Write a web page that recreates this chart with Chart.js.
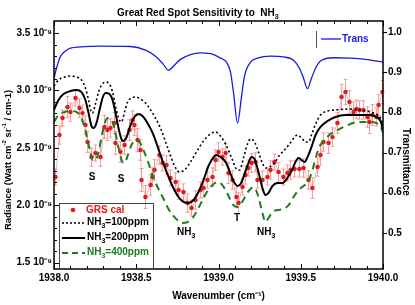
<!DOCTYPE html>
<html><head><meta charset="utf-8">
<script src="https://cdn.jsdelivr.net/npm/chart.js@4.4.1/dist/chart.umd.min.js"></script>
<style>html,body{margin:0;padding:0;background:#fff;}canvas{display:block;}</style>
</head><body>
<canvas id="c" width="415" height="305"></canvas>
<script>
// ---- tick values ----
const xTickValues = [1938.0, 1938.5, 1939.0, 1939.5, 1940.0];
const radTickValues = [1.5, 2.0, 2.5, 3.0, 3.5];      // units of 1e-9
const transTickValues = [0.5, 0.6, 0.7, 0.8, 0.9, 1.0];

// ---- transmittance (right axis) [wavenumber, T] ----
const transData = [[1938.000,0.885],[1938.012,0.905],[1938.021,0.918],[1938.040,0.940],[1938.070,0.953],[1938.100,0.960],[1938.161,0.963],[1938.283,0.965],[1938.465,0.964],[1938.556,0.955],[1938.617,0.940],[1938.660,0.922],[1938.696,0.905],[1938.733,0.918],[1938.769,0.932],[1938.830,0.944],[1938.891,0.948],[1938.951,0.946],[1939.012,0.935],[1939.049,0.925],[1939.073,0.900],[1939.091,0.850],[1939.116,0.773],[1939.140,0.840],[1939.158,0.890],[1939.195,0.925],[1939.237,0.935],[1939.316,0.940],[1939.395,0.938],[1939.456,0.930],[1939.492,0.910],[1939.517,0.885],[1939.541,0.859],[1939.565,0.885],[1939.590,0.910],[1939.620,0.928],[1939.699,0.936],[1939.802,0.935],[1939.894,0.932],[1940.000,0.925]];

// ---- model radiances (1e-9 W cm-2 sr-1 / cm-1) [wavenumber, radiance] ----
const nh3_100 = [[1938.000,3.039],[1938.027,3.091],[1938.064,3.117],[1938.100,3.126],[1938.137,3.117],[1938.167,3.091],[1938.191,3.021],[1938.210,2.917],[1938.222,2.830],[1938.234,2.803],[1938.252,2.882],[1938.271,2.986],[1938.289,3.047],[1938.313,3.073],[1938.337,3.056],[1938.356,2.986],[1938.374,2.864],[1938.392,2.760],[1938.410,2.725],[1938.429,2.812],[1938.447,2.899],[1938.471,2.934],[1938.495,2.943],[1938.526,2.925],[1938.556,2.891],[1938.599,2.803],[1938.647,2.673],[1938.696,2.481],[1938.733,2.342],[1938.763,2.290],[1938.793,2.307],[1938.830,2.377],[1938.866,2.464],[1938.909,2.560],[1938.951,2.621],[1938.982,2.638],[1939.012,2.603],[1939.049,2.516],[1939.085,2.394],[1939.109,2.316],[1939.128,2.307],[1939.152,2.412],[1939.176,2.534],[1939.195,2.577],[1939.219,2.551],[1939.243,2.464],[1939.267,2.368],[1939.286,2.325],[1939.310,2.333],[1939.340,2.368],[1939.371,2.438],[1939.401,2.481],[1939.432,2.534],[1939.462,2.594],[1939.480,2.612],[1939.505,2.586],[1939.529,2.551],[1939.547,2.551],[1939.565,2.612],[1939.590,2.708],[1939.620,2.786],[1939.663,2.821],[1939.711,2.830],[1939.784,2.838],[1939.863,2.830],[1939.924,2.812],[1939.960,2.795],[1939.985,2.760],[1940.000,2.708]];

const nh3_200 = [[1938.000,2.830],[1938.027,2.917],[1938.058,2.969],[1938.100,2.995],[1938.137,3.004],[1938.167,2.986],[1938.191,2.917],[1938.210,2.803],[1938.228,2.690],[1938.240,2.673],[1938.258,2.716],[1938.277,2.830],[1938.295,2.934],[1938.313,2.978],[1938.337,2.969],[1938.356,2.917],[1938.374,2.803],[1938.392,2.673],[1938.410,2.577],[1938.422,2.560],[1938.441,2.594],[1938.465,2.699],[1938.489,2.769],[1938.514,2.795],[1938.538,2.777],[1938.568,2.716],[1938.605,2.612],[1938.647,2.438],[1938.684,2.290],[1938.720,2.168],[1938.757,2.072],[1938.787,2.029],[1938.818,2.020],[1938.848,2.046],[1938.878,2.116],[1938.909,2.220],[1938.939,2.342],[1938.970,2.420],[1938.988,2.438],[1939.012,2.420],[1939.043,2.377],[1939.067,2.298],[1939.091,2.211],[1939.116,2.168],[1939.134,2.185],[1939.158,2.272],[1939.182,2.368],[1939.201,2.420],[1939.219,2.403],[1939.243,2.290],[1939.267,2.150],[1939.286,2.089],[1939.304,2.107],[1939.328,2.168],[1939.359,2.194],[1939.389,2.194],[1939.419,2.238],[1939.444,2.298],[1939.468,2.377],[1939.486,2.412],[1939.505,2.394],[1939.523,2.377],[1939.541,2.420],[1939.565,2.507],[1939.590,2.612],[1939.620,2.682],[1939.663,2.734],[1939.711,2.769],[1939.772,2.786],[1939.863,2.786],[1939.924,2.786],[1939.960,2.769],[1939.985,2.734],[1940.000,2.655]];

const nh3_400 = [[1938.000,2.725],[1938.027,2.786],[1938.064,2.812],[1938.100,2.821],[1938.137,2.812],[1938.161,2.777],[1938.185,2.682],[1938.204,2.568],[1938.222,2.455],[1938.234,2.394],[1938.252,2.394],[1938.271,2.464],[1938.289,2.594],[1938.307,2.708],[1938.325,2.760],[1938.343,2.751],[1938.362,2.699],[1938.380,2.586],[1938.398,2.464],[1938.416,2.377],[1938.429,2.368],[1938.447,2.429],[1938.471,2.525],[1938.495,2.568],[1938.520,2.551],[1938.544,2.481],[1938.574,2.368],[1938.605,2.238],[1938.635,2.142],[1938.666,2.055],[1938.696,1.968],[1938.726,1.907],[1938.757,1.863],[1938.781,1.846],[1938.812,1.854],[1938.842,1.889],[1938.872,1.959],[1938.903,2.046],[1938.933,2.124],[1938.964,2.177],[1938.994,2.203],[1939.018,2.185],[1939.043,2.133],[1939.067,2.063],[1939.091,2.002],[1939.116,1.985],[1939.140,2.020],[1939.164,2.081],[1939.188,2.133],[1939.213,2.159],[1939.231,2.124],[1939.249,2.037],[1939.267,1.933],[1939.286,1.854],[1939.304,1.889],[1939.328,1.941],[1939.359,1.959],[1939.395,1.968],[1939.426,2.002],[1939.456,2.072],[1939.486,2.133],[1939.517,2.168],[1939.547,2.211],[1939.571,2.307],[1939.596,2.438],[1939.620,2.525],[1939.650,2.577],[1939.681,2.621],[1939.723,2.655],[1939.772,2.690],[1939.821,2.716],[1939.875,2.725],[1939.924,2.725],[1939.960,2.716],[1939.985,2.690],[1940.000,2.629]];

// ---- GRS calibrated observations ----
const grsWn = [1938.009,1938.033,1938.052,1938.082,1938.100,1938.131,1938.155,1938.173,1938.191,1938.204,
1938.228,1938.252,1938.283,1938.307,1938.325,1938.343,1938.368,1938.374,1938.404,1938.429,
1938.459,1938.477,1938.489,1938.508,1938.526,1938.532,1938.556,1938.587,1938.599,1938.611,
1938.641,1938.660,1938.684,1938.708,1938.739,1938.757,1938.787,1938.812,1938.836,1938.860,
1938.891,1938.909,1938.933,1938.964,1938.982,1939.000,1939.024,1939.043,1939.061,1939.085,
1939.109,1939.122,1939.146,1939.164,1939.182,1939.201,1939.225,1939.237,1939.267,1939.298,
1939.316,1939.340,1939.365,1939.395,1939.419,1939.438,1939.462,1939.492,1939.517,1939.547,
1939.571,1939.602,1939.620,1939.638,1939.669,1939.693,1939.723,1939.748,1939.772,1939.796,
1939.821,1939.839,1939.857,1939.881,1939.906,1939.918,1939.936,1939.960,1939.973,1939.997];
const grsRad = [2.246,2.612,2.760,2.856,2.812,2.934,2.847,2.803,2.699,2.551,
2.420,2.455,2.420,2.682,2.655,2.673,2.716,2.542,2.464,2.525,
2.655,2.742,2.699,2.568,2.481,2.220,2.072,2.177,2.246,2.307,
2.438,2.368,2.351,2.238,2.203,2.133,2.116,2.020,1.976,2.046,
2.133,2.150,2.220,2.246,2.394,2.464,2.420,2.455,2.281,2.220,
2.072,2.020,2.159,2.264,2.325,2.368,2.377,2.220,2.220,2.246,
2.307,2.377,2.290,2.246,2.281,2.307,2.316,2.316,2.325,2.220,
2.150,2.333,2.438,2.551,2.542,2.594,2.716,2.943,2.986,2.899,
2.812,2.838,2.830,2.830,2.769,2.725,2.786,2.769,2.873,2.986];
const grsErr = [0.07,0.08,0.07,0.09,0.08,0.07,0.08,0.07,0.08,0.09,
0.08,0.07,0.08,0.10,0.09,0.08,0.09,0.10,0.09,0.08,
0.09,0.08,0.09,0.10,0.09,0.10,0.10,0.09,0.08,0.09,
0.08,0.07,0.08,0.07,0.08,0.08,0.07,0.08,0.07,0.08,
0.07,0.08,0.07,0.08,0.09,0.08,0.07,0.08,0.09,0.08,
0.08,0.09,0.07,0.08,0.07,0.08,0.08,0.07,0.08,0.07,
0.08,0.07,0.08,0.07,0.07,0.08,0.07,0.07,0.08,0.08,
0.09,0.08,0.09,0.08,0.09,0.08,0.09,0.11,0.11,0.10,
0.09,0.08,0.08,0.08,0.09,0.10,0.09,0.08,0.09,0.10];
const grsWnErr = 0.015;

const F = "'Liberation Sans', Arial, Helvetica, sans-serif";
const RED = '#e41a1c', GREEN = '#1b7d1b', BLUE = '#1a1ae6';
const pts = arr => arr.map(p => ({x: p[0], y: p[1]}));

function partFont(size, k) { return `bold ${k === 'n' ? size : Math.round(size * 0.65)}px ${F}`; }
function partsWidth(ctx, parts, size) {
  let w = 0;
  for (const [t, k] of parts) { ctx.font = partFont(size, k); w += ctx.measureText(t).width; }
  return w;
}
function subText(ctx, parts, x, y, size, color) {
  // parts: array of [text, 'n'|'sub'|'sup']
  ctx.save();
  ctx.fillStyle = color; ctx.textBaseline = 'middle'; ctx.textAlign = 'left';
  let cx = x;
  for (const [t, k] of parts) {
    ctx.font = partFont(size, k);
    const dy = k === 'sub' ? size * 0.38 : (k === 'sup' ? -size * 0.38 : 0);
    ctx.fillText(t, cx, y + dy);
    cx += ctx.measureText(t).width;
  }
  ctx.restore();
  return cx;
}
function rotatedText(ctx, parts, cx, cy, angle, size, color) {
  ctx.save();
  ctx.translate(cx, cy); ctx.rotate(angle);
  const w = partsWidth(ctx, parts, size);
  subText(ctx, parts, -w / 2, 0, size, color);
  ctx.restore();
}

const decor = {
  id: 'decor',
  beforeDatasetsDraw(chart) {
    const {ctx} = chart; const xs = chart.scales.x, ys = chart.scales.y;
    ctx.save();
    ctx.strokeStyle = 'rgba(240,120,120,0.8)'; ctx.lineWidth = 0.9;
    ctx.beginPath();
    for (let i = 0; i < grsWn.length; i++) {
      const px = xs.getPixelForValue(grsWn[i]), py = ys.getPixelForValue(grsRad[i]);
      const t = ys.getPixelForValue(grsRad[i] + grsErr[i]), b = ys.getPixelForValue(grsRad[i] - grsErr[i]);
      const l = xs.getPixelForValue(grsWn[i] - grsWnErr), r = xs.getPixelForValue(grsWn[i] + grsWnErr);
      ctx.moveTo(px, t); ctx.lineTo(px, b);
      ctx.moveTo(px - 2, t); ctx.lineTo(px + 2, t);
      ctx.moveTo(px - 2, b); ctx.lineTo(px + 2, b);
      ctx.moveTo(l, py); ctx.lineTo(r, py);
    }
    ctx.stroke();
    ctx.restore();
  },
  afterDraw(chart) {
    const {ctx, chartArea: a} = chart;
    const xs = chart.scales.x, ys = chart.scales.y, y2 = chart.scales.y2;
    ctx.save();
    // frame
    ctx.strokeStyle = '#000'; ctx.lineWidth = 1.5;
    ctx.strokeRect(a.left, a.top, a.right - a.left, a.bottom - a.top);
    ctx.lineWidth = 1;
    ctx.beginPath();
    for (let k = 0; k <= 20; k++) {
      const v = 1938 + k * 0.1, L = (k % 5 === 0) ? 5 : 3;
      const px = Math.round(xs.getPixelForValue(v)) + 0.5;
      ctx.moveTo(px, a.bottom); ctx.lineTo(px, a.bottom - L);
      ctx.moveTo(px, a.top); ctx.lineTo(px, a.top + L);
    }
    for (let k = 15; k <= 35; k++) {
      const L = (k % 5 === 0) ? 5 : 3;
      const py = Math.round(ys.getPixelForValue(k / 10)) + 0.5;
      ctx.moveTo(a.left, py); ctx.lineTo(a.left + L, py);
    }
    for (const v of transTickValues) {
      const py = Math.round(y2.getPixelForValue(v)) + 0.5;
      ctx.moveTo(a.right, py); ctx.lineTo(a.right + 4, py);
    }
    ctx.stroke();

    // axis titles
    rotatedText(ctx, [['Radiance (Watt cm', 'n'], ['-2', 'sup'], [' sr', 'n'], ['-1', 'sup'], [' / cm-1)', 'n']], 8, 160, -Math.PI / 2, 9.5, '#000');
    rotatedText(ctx, [['Transmittance', 'n']], 406, 162, Math.PI / 2, 10, '#000');

    // title
    subText(ctx, [['Great Red Spot Sensitivity to  NH', 'n'], ['3', 'sub']], 117, 13.5, 10, '#000');

    // Trans legend (top right)
    ctx.strokeStyle = '#555'; ctx.lineWidth = 1;
    ctx.beginPath(); ctx.moveTo(316.5, 31); ctx.lineTo(316.5, 48); ctx.stroke();
    ctx.strokeStyle = BLUE; ctx.lineWidth = 1.3;
    ctx.beginPath(); ctx.moveTo(321, 39); ctx.lineTo(341, 39); ctx.stroke();
    subText(ctx, [['Trans', 'n']], 342, 39, 10, BLUE);

    // lower-left legend box
    ctx.strokeStyle = '#444'; ctx.lineWidth = 1;
    ctx.strokeRect(59.5, 203.5, 94, a.bottom - 203.5);
    ctx.fillStyle = RED;
    ctx.beginPath(); ctx.arc(73, 210, 2.3, 0, Math.PI * 2); ctx.fill();
    subText(ctx, [['GRS cal', 'n']], 86, 210, 10, RED);
    ctx.strokeStyle = '#000'; ctx.lineWidth = 1.5; ctx.setLineDash([2, 2]);
    ctx.beginPath(); ctx.moveTo(62, 223); ctx.lineTo(85, 223); ctx.stroke();
    ctx.setLineDash([]); ctx.lineWidth = 2;
    ctx.beginPath(); ctx.moveTo(62, 238); ctx.lineTo(85, 238); ctx.stroke();
    ctx.strokeStyle = GREEN; ctx.setLineDash([6, 4]);
    ctx.beginPath(); ctx.moveTo(62, 253); ctx.lineTo(85, 253); ctx.stroke();
    ctx.setLineDash([]);
    subText(ctx, [['NH', 'n'], ['3', 'sub'], ['=100ppm', 'n']], 87, 222, 10, '#000');
    subText(ctx, [['NH', 'n'], ['3', 'sub'], ['=200ppm', 'n']], 87, 237, 10, '#000');
    subText(ctx, [['NH', 'n'], ['3', 'sub'], ['=400ppm', 'n']], 87, 252, 10, GREEN);

    // feature annotations
    ctx.fillStyle = '#000'; ctx.font = `bold 10px ${F}`; ctx.textAlign = 'center'; ctx.textBaseline = 'middle';
    ctx.fillText('S', 92, 177);
    ctx.fillText('S', 121, 179);
    ctx.fillText('T', 237, 218);
    subText(ctx, [['NH', 'n'], ['3', 'sub']], 177, 232, 10, '#000');
    subText(ctx, [['NH', 'n'], ['3', 'sub']], 257, 232, 10, '#000');
    ctx.restore();
  }
};

const tickFont = {family: F, size: 10, weight: 'bold'};
new Chart(document.getElementById('c'), {
  type: 'line',
  data: {
    datasets: [
      {label: 'NH3=200ppm', data: pts(nh3_200), yAxisID: 'y', borderColor: '#000', borderWidth: 2, pointRadius: 0, cubicInterpolationMode: 'monotone', order: 1},
      {label: 'NH3=100ppm', data: pts(nh3_100), yAxisID: 'y', borderColor: '#000', borderWidth: 1.6, borderDash: [2, 2.5], pointRadius: 0, cubicInterpolationMode: 'monotone', order: 2},
      {label: 'NH3=400ppm', data: pts(nh3_400), yAxisID: 'y', borderColor: GREEN, borderWidth: 2, borderDash: [7, 5], pointRadius: 0, cubicInterpolationMode: 'monotone', order: 3},
      {label: 'GRS cal', data: grsWn.map((w, i) => ({x: w, y: grsRad[i]})), yAxisID: 'y', borderColor: 'rgba(242,140,140,0.8)', borderWidth: 0.8, tension: 0, pointRadius: 2.2, pointBackgroundColor: RED, pointBorderWidth: 0, order: 4},
      {label: 'Trans', data: pts(transData), yAxisID: 'y2', borderColor: BLUE, borderWidth: 1.3, pointRadius: 0, cubicInterpolationMode: 'monotone', order: 5}
    ]
  },
  options: {
    responsive: false, animation: false, devicePixelRatio: 1,
    layout: {padding: {top: 21, left: 0, right: 0, bottom: 0}},
    plugins: {legend: {display: false}, tooltip: {enabled: false}, title: {display: false}},
    scales: {
      x: {
        type: 'linear', position: 'bottom', min: 1938, max: 1940,
        grid: {display: false, drawTicks: false}, border: {display: false},
        afterBuildTicks: s => { s.ticks = xTickValues.map(v => ({value: v})); },
        ticks: {callback: v => v.toFixed(1), font: tickFont, color: '#000', padding: 3, maxRotation: 0, autoSkip: false},
        title: {display: true, text: 'Wavenumber (cm⁻¹)', font: tickFont, color: '#000', padding: {top: 0, bottom: 3}},
        afterFit: s => { s.height = 36; }
      },
      y: {
        type: 'linear', position: 'left', min: 1.445, max: 3.605,
        grid: {display: false, drawTicks: false}, border: {display: false},
        afterBuildTicks: s => { s.ticks = radTickValues.map(v => ({value: v})); },
        ticks: {callback: v => v.toFixed(1) + ' 10⁻⁹', font: tickFont, color: '#000', padding: 2},
        afterFit: s => { s.width = 54; }
      },
      y2: {
        type: 'linear', position: 'right', min: 0.41, max: 1.0275,
        grid: {display: false, drawTicks: false}, border: {display: false},
        afterBuildTicks: s => { s.ticks = transTickValues.map(v => ({value: v})); },
        ticks: {callback: v => v.toFixed(1), font: tickFont, color: '#000', padding: 5},
        afterFit: s => { s.width = 32; }
      }
    }
  },
  plugins: [decor]
});
</script>
</body></html>
